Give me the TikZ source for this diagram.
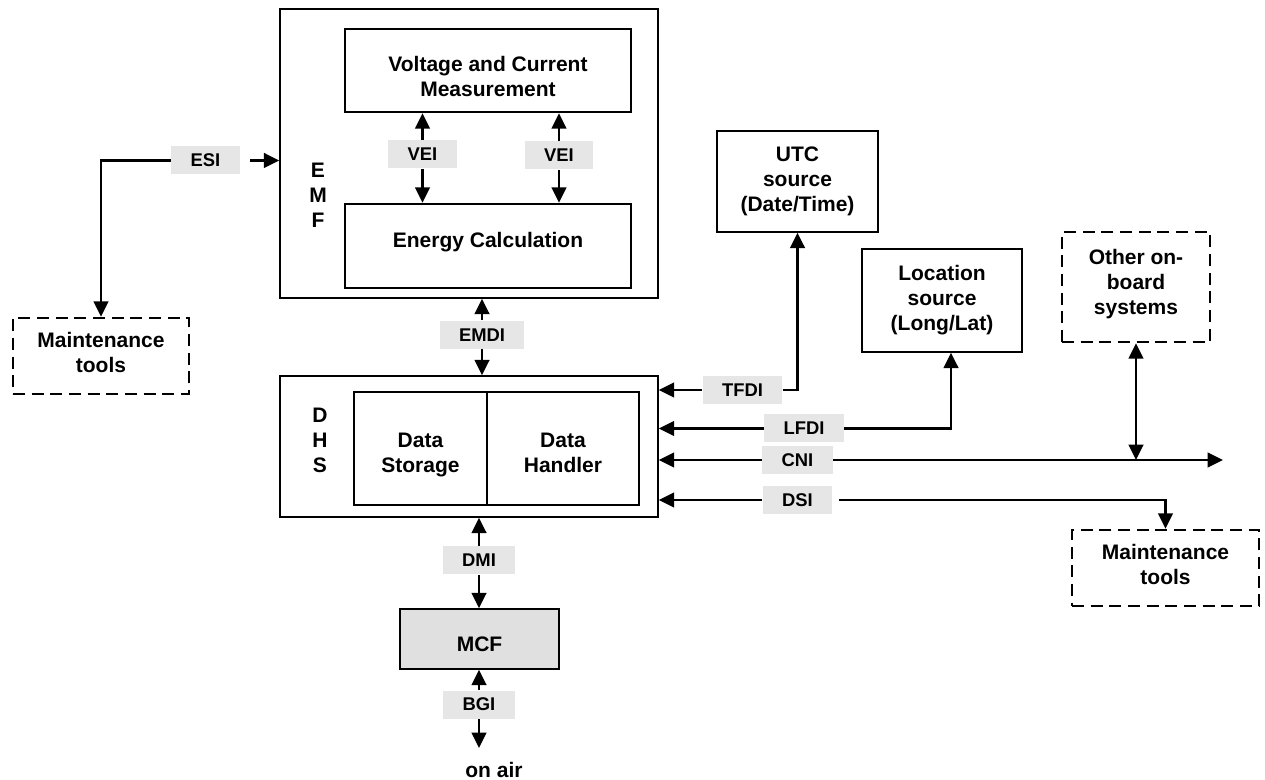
\documentclass[tikz,border=0pt]{standalone}
\usepackage{fontspec}
\setmainfont{Liberation Sans}
\usetikzlibrary{arrows.meta}

\definecolor{tagfill}{RGB}{230,230,230}
\definecolor{mcffill}{RGB}{224,224,224}

\tikzset{every picture/.style={line width=0.75pt}}
\tikzset{
  every node/.style={font=\bfseries\fontsize{15.75}{18.75}\selectfont, align=center},
  outerbox/.style={draw, line width=1.1pt},
  innerbox/.style={draw, line width=2pt},
  thinbox/.style={draw, line width=1.1pt},
  dashbox/.style={draw, line width=2pt, dash pattern=on 9pt off 5pt},
  tag/.style={fill=tagfill, inner xsep=14.5pt, inner ysep=0pt, minimum height=21pt,
    font=\bfseries\fontsize{13.8}{16}\selectfont},
  arr/.style={line width=1.75pt, -{Triangle[length=11.5pt,width=11pt]}},
  darr/.style={line width=1.75pt, {Triangle[length=11.5pt,width=11pt]}-{Triangle[length=11.5pt,width=11pt]}}
}

\begin{document}
\begin{tikzpicture}[x=0.75pt,y=0.75pt,yscale=-1,xscale=1]
\useasboundingbox (0,0) rectangle (1265,780);

%Shape: Rectangle [EMF]
\node (emf) [outerbox, minimum width=283.5pt, minimum height=216.75pt] at (469,153.5) {};
%Shape: Rectangle [Voltage and Current Measurement]
\node (vcm) [innerbox, minimum width=214.5pt, minimum height=62.25pt, text height=39pt] at (488,70.5) {Voltage and Current\\Measurement};
%Shape: Rectangle [Energy Calculation]
\node (ec) [innerbox, minimum width=214.5pt, minimum height=63pt, text depth=9pt] at (488,246) {Energy Calculation};
% Text Node
\node (emft) at (318,195) {E\\M\\F};

%Shape: Rectangle [DHS]
\node (dhs) [outerbox, minimum width=283.5pt, minimum height=105.75pt] at (469,446.5) {};
%Shape: Rectangle [Data Storage]
\node (dst) [innerbox, minimum width=99.75pt, minimum height=84.75pt, text height=36pt, text depth=0pt] at (420.5,448.5) {Data\\Storage};
%Shape: Rectangle [Data Handler]
\node (dhd) [innerbox, minimum width=114pt, minimum height=84.75pt, text height=36pt, text depth=0pt] at (563,448.5) {Data\\Handler};
% Text Node
\node (dhst) at (320,440) {D\\H\\S};

%Shape: Rectangle [MCF]
\node (mcf) [thinbox, fill=mcffill, minimum width=119.25pt, minimum height=45pt, text height=19pt] at (479.5,639) {MCF};
% Text Node
\node (onair) at (494,770) {on air};
\coordinate (air) at (479,748);

%Shape: Rectangle [UTC]
\node (utc) [thinbox, minimum width=120.75pt, minimum height=75.75pt] at (797.5,181.5) {UTC\\source\\(Date/Time)};
%Shape: Rectangle [Location]
\node (loc) [thinbox, minimum width=120pt, minimum height=77.25pt] at (942,300.5) {Location\\source\\(Long/Lat)};
%Shape: Rectangle [Other systems]
\node (oth) [dashbox, minimum width=111pt, minimum height=82.5pt, text depth=8pt] at (1136,287) {Other on-\\board\\systems};
%Shape: Rectangle [Maintenance left]
\node (mtl) [dashbox, minimum width=132pt, minimum height=57pt, text depth=4.7pt] at (101,356) {Maintenance\\tools};
%Shape: Rectangle [Maintenance right]
\node (mtr) [dashbox, minimum width=140.25pt, minimum height=57pt, text depth=4.7pt] at (1165.5,568) {Maintenance\\tools};
\coordinate (cnix) at (1223,460);

% Text Node
\node (esi) [tag] at (205.5,160.5) {ESI};
\node (vei1) [tag] at (422.5,154.5) {VEI};
\node (vei2) [tag] at (559,155.5) {VEI};
\node (emdi) [tag] at (482,335) {EMDI};
\node (dmi) [tag] at (479,560.5) {DMI};
\node (bgi) [tag] at (479,704.5) {BGI};
\node (tfdi) [tag] at (742.5,390) {TFDI};
\node (lfdi) [tag] at (804,428.5) {LFDI};
\node (cni) [tag] at (797.5,460) {CNI};
\node (dsi) [tag] at (797.5,500) {DSI};

% Connection
\draw [arr] (esi.west) -| (mtl.north);
\draw [arr] ([xshift=7.5pt]esi.east) -- (esi.east -| emf.west);
% Connection
\draw [arr] (vei1.north) -- (vei1.north |- vcm.south);
\draw [arr] (vei1.south) -- (vei1.south |- ec.north);
\draw [arr] (vei2.north) -- (vei2.north |- vcm.south);
\draw [arr] (vei2.south) -- (vei2.south |- ec.north);
% Connection
\draw [arr] (emdi.north) -- (emdi.north |- emf.south);
\draw [arr] (emdi.south) -- (emdi.south |- dhs.north);
% Connection
\draw [arr] (dmi.north) -- (dmi.north |- dhs.south);
\draw [arr] (dmi.south) -- (dmi.south |- mcf.north);
% Connection
\draw [arr] (bgi.north) -- (bgi.north |- mcf.south);
\draw [arr] (bgi.south) -- (air);
% Connection
\draw [arr] (tfdi.east) -| (utc.south);
\draw [arr] (tfdi.west) -- (tfdi.west -| dhs.east);
% Connection
\draw [arr] (lfdi.east) -| ([xshift=6.75pt]loc.south);
\draw [arr] (lfdi.west) -- (lfdi.west -| dhs.east);
% Connection
\draw [arr] (cni.west) -- (cni.west -| dhs.east);
\draw [arr] (cni.east) -- (cni.east -| cnix);
\draw [darr] (oth.south) -- (oth.south |- cni.east);
% Connection
\draw [arr] (dsi.west) -- (dsi.west -| dhs.east);
\draw [arr] ([xshift=5pt]dsi.east) -| (mtr.north);

\end{tikzpicture}
\end{document}
